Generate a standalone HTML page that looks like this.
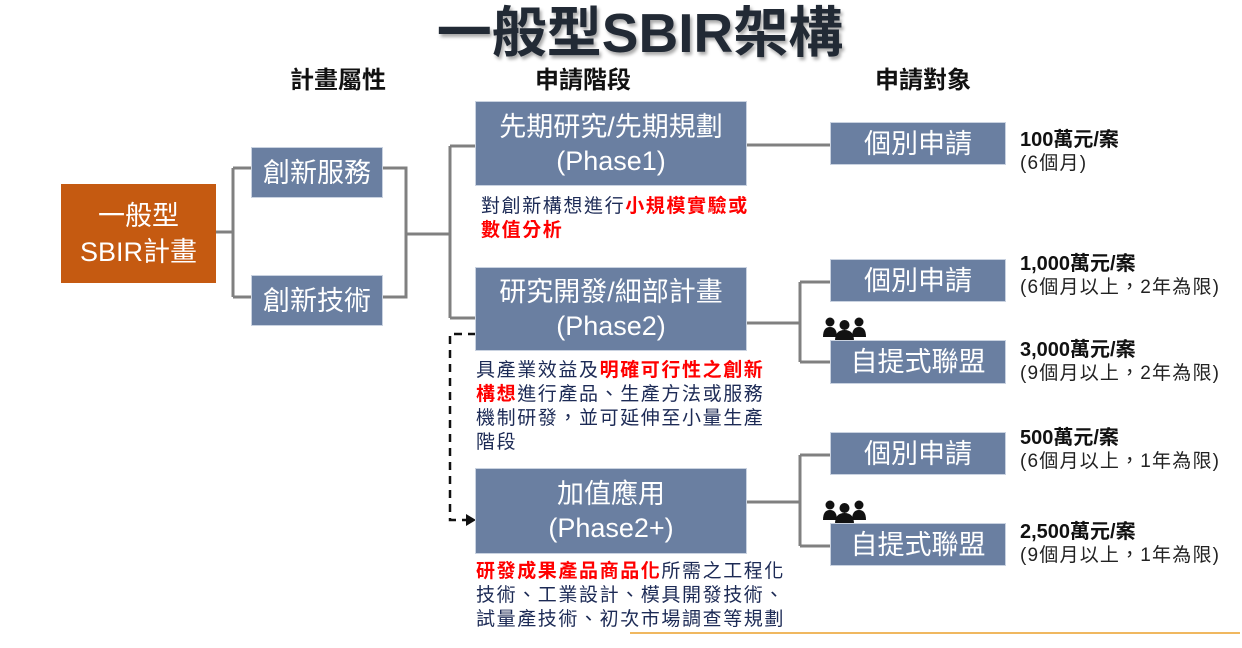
<!DOCTYPE html>
<html><head><meta charset="utf-8"><style>
body{margin:0;width:1242px;height:648px;background:#fff;position:relative;overflow:hidden;font-family:"Liberation Sans","Noto Sans CJK TC",sans-serif}
.a{position:absolute}
.b{position:absolute;background:#6a7fa1;color:#fff;display:flex;align-items:center;justify-content:center;text-align:center;font-size:27px;line-height:34px;box-shadow:0 0 0 1px #c9d2e0;white-space:nowrap}
.h{position:absolute;font-size:24px;color:#111;font-weight:bold;line-height:28px}
.t{position:absolute;font-size:19px;letter-spacing:1.6px;line-height:24px;color:#1c2a55;white-space:nowrap}
.r{color:#f00;font-weight:bold}
.m{position:absolute;left:1020px;font-size:19px;line-height:23px;color:#111;white-space:nowrap}
.m b{font-size:20px}
.m span{color:#222;font-size:19px;letter-spacing:1.2px}
</style></head><body>
<div class="a" style="left:0;width:1242px;top:0;text-align:center;font-size:55px;font-weight:bold;color:#222a35;text-shadow:2px 3px 3px #aaa;line-height:66px;padding-left:38px;box-sizing:border-box">一般型SBIR架構</div>
<div class="h" style="left:290px;top:67px">計畫屬性</div>
<div class="h" style="left:535px;top:67px">申請階段</div>
<div class="h" style="left:875px;top:67px">申請對象</div>

<svg class="a" style="left:0;top:0" width="1242" height="648">
<g stroke="#808080" stroke-width="3" fill="none">
<path d="M216 232H233M233 168V297M233 168H252M233 297H252"/>
<path d="M382 168H406V297H382M406 234H450M450 146V318M450 146H476M450 318H476"/>
<path d="M746 145H831"/>
<path d="M746 323H800M800 282V362M800 282H831M800 362H831"/>
<path d="M746 502H800M800 455V546M800 455H831M800 546H831"/>
</g>
<path d="M476 334H450V520H466" stroke="#111" stroke-width="2.5" fill="none" stroke-dasharray="8,6"/>
<path d="M466 514L476 520L466 526Z" fill="#111"/>
<line x1="630" y1="633" x2="1240" y2="633" stroke="#f0b860" stroke-width="2"/>
<g fill="#111">
<g transform="translate(823,317)"><circle cx="7" cy="5" r="4.5"/><circle cx="36" cy="5" r="4.5"/><path d="M0 20Q0 10 7 10Q14 10 14 20Z"/><path d="M29 20Q29 10 36 10Q43 10 43 20Z"/><circle cx="21.5" cy="8" r="5"/><path d="M12 24Q12 13 21.5 13Q31 13 31 24Z"/></g>
<g transform="translate(823,500)"><circle cx="7" cy="5" r="4.5"/><circle cx="36" cy="5" r="4.5"/><path d="M0 20Q0 10 7 10Q14 10 14 20Z"/><path d="M29 20Q29 10 36 10Q43 10 43 20Z"/><circle cx="21.5" cy="8" r="5"/><path d="M12 24Q12 13 21.5 13Q31 13 31 24Z"/></g>
</g>
</svg>

<div class="b" style="left:61px;top:184px;width:155px;height:99px;background:#c55a11;box-shadow:none;line-height:36px">一般型<br>SBIR計畫</div>
<div class="b" style="left:252px;top:148px;width:130px;height:49px">創新服務</div>
<div class="b" style="left:252px;top:276px;width:130px;height:49px">創新技術</div>
<div class="b" style="left:476px;top:102px;width:270px;height:83px">先期研究/先期規劃<br>(Phase1)</div>
<div class="b" style="left:476px;top:268px;width:270px;height:82px">研究開發/細部計畫<br>(Phase2)</div>
<div class="b" style="left:476px;top:469px;width:270px;height:84px">加值應用<br>(Phase2+)</div>

<div class="t" style="left:481px;top:195px">對創新構想進行<span class="r">小規模實驗或<br>數值分析</span></div>
<div class="t" style="left:476px;top:359px">具產業效益及<span class="r">明確可行性之創新<br>構想</span>進行產品、生產方法或服務<br>機制研發，並可延伸至小量生產<br>階段</div>
<div class="t" style="left:476px;top:560px"><span class="r">研發成果產品商品化</span>所需之工程化<br>技術、工業設計、模具開發技術、<br>試量產技術、初次市場調查等規劃</div>

<div class="b" style="left:831px;top:123px;width:174px;height:41px">個別申請</div>
<div class="b" style="left:831px;top:260px;width:174px;height:41px">個別申請</div>
<div class="b" style="left:831px;top:341px;width:174px;height:42px">自提式聯盟</div>
<div class="b" style="left:831px;top:433px;width:174px;height:41px">個別申請</div>
<div class="b" style="left:831px;top:524px;width:174px;height:41px">自提式聯盟</div>

<div class="m" style="top:129px"><b>100萬元/案</b><br><span>(6個月)</span></div>
<div class="m" style="top:253px"><b>1,000萬元/案</b><br><span>(6個月以上，2年為限)</span></div>
<div class="m" style="top:339px"><b>3,000萬元/案</b><br><span>(9個月以上，2年為限)</span></div>
<div class="m" style="top:427px"><b>500萬元/案</b><br><span>(6個月以上，1年為限)</span></div>
<div class="m" style="top:521px"><b>2,500萬元/案</b><br><span>(9個月以上，1年為限)</span></div>
</body></html>
